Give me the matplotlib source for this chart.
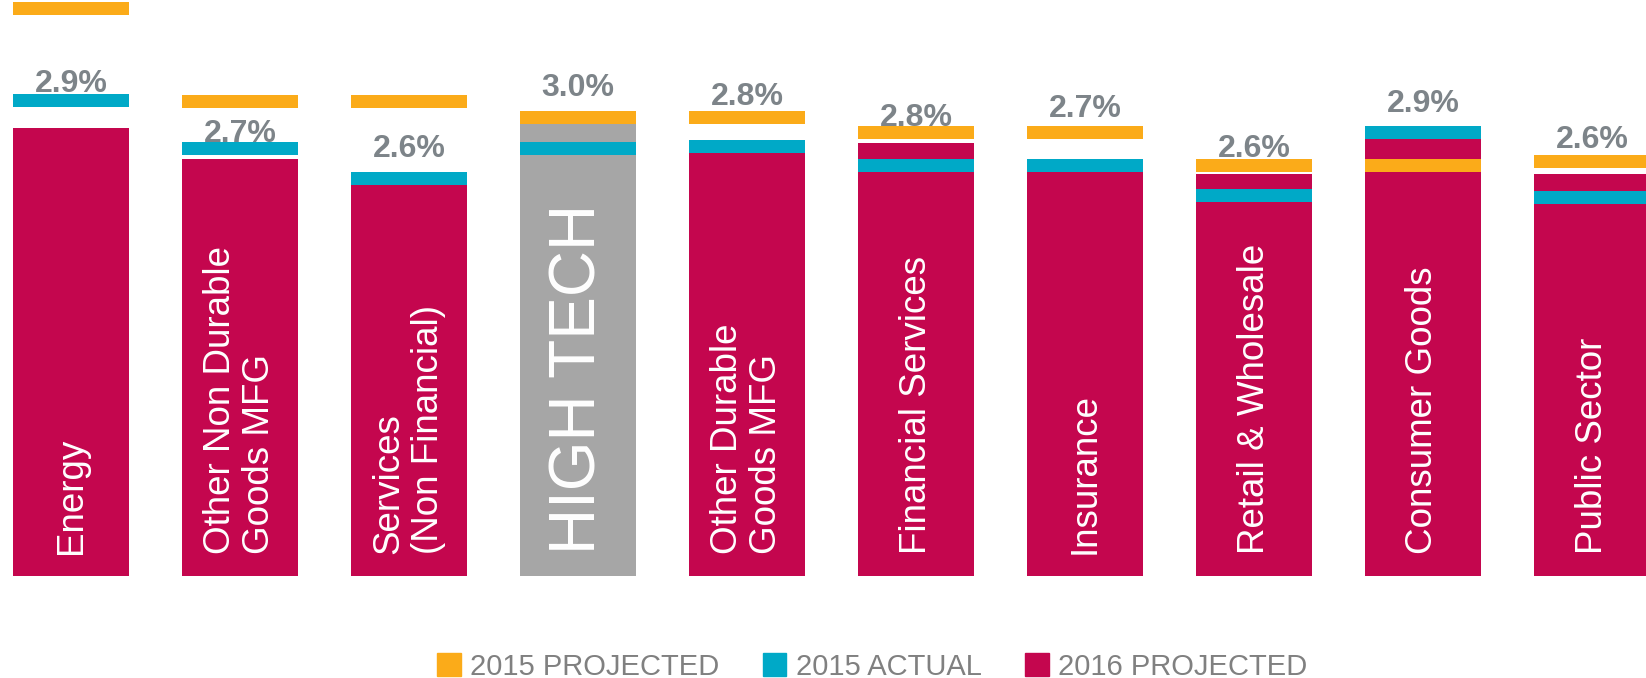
import matplotlib
matplotlib.use('Agg')
from matplotlib import pyplot as plt
from matplotlib.patches import Patch

plt.rcParams['font.family'] = ['Liberation Sans', 'DejaVu Sans']

categories = ['Energy', 'Other Non Durable\nGoods MFG', 'Services\n(Non Financial)',
              'HIGH TECH', 'Other Durable\nGoods MFG', 'Financial Services',
              'Insurance', 'Retail & Wholesale', 'Consumer Goods', 'Public Sector']
proj_2016 = [2.9, 2.7, 2.6, 3.0, 2.8, 2.8, 2.7, 2.6, 2.9, 2.6]
proj_2015 = [3.67, 3.07, 3.07, 2.97, 2.97, 2.87, 2.87, 2.66, 2.66, 2.68]
actual_2015 = [3.08, 2.77, 2.57, 2.77, 2.78, 2.66, 2.66, 2.46, 2.87, 2.45]

# where the % labels sit (baseline, in data units) - placed by hand in the original
label_y = [3.13, 2.81, 2.71, 3.11, 3.05, 2.91, 2.97, 2.71, 3.00, 2.77]

c_proj15 = '#FBAB19'
c_act15 = '#00A9C7'
c_proj16 = '#C4064E'
c_high = '#A6A6A6'
c_text = '#7D8489'

fig = plt.figure(figsize=(16.46, 6.78), dpi=100)
ax = fig.add_axes([0, 102 / 678, 1, 576 / 678])

x = list(range(len(categories)))
w = 0.69
mk = 0.084  # marker thickness

colors = [c_high if c == 'HIGH TECH' else c_proj16 for c in categories]
ax.bar(x, proj_2016, width=w, color=colors, zorder=1)
ax.bar(x, [mk] * len(x), bottom=[v - mk / 2 for v in proj_2015], width=w,
       color=c_proj15, zorder=2)
ax.bar(x, [mk] * len(x), bottom=[v - mk / 2 for v in actual_2015], width=w,
       color=c_act15, zorder=2)

for i, cat in enumerate(categories):
    big = cat == 'HIGH TECH'
    ax.text(i, 0.14, cat, rotation=90, ha='center', va='bottom',
            multialignment='left', color='white',
            fontsize=46 if big else 26.5, linespacing=1.17, zorder=3)
    ax.text(i, label_y[i], f'{proj_2016[i]:.1f}%', ha='center', va='baseline',
            color=c_text, fontsize=23, fontweight='bold', zorder=3)

ax.set_xlim(-71 / 169, 9 + 54 / 169)
ax.set_ylim(0, 576 / 154.5)
ax.axis('off')

handles = [Patch(color=c_proj15, label='2015 PROJECTED'),
           Patch(color=c_act15, label='2015 ACTUAL'),
           Patch(color=c_proj16, label='2016 PROJECTED')]
fig.legend(handles=handles, loc='lower center', bbox_to_anchor=(872 / 1646, -0.03),
           ncol=3, frameon=False, fontsize=21, labelcolor='#808080',
           handlelength=0.82, handleheight=0.82, handletextpad=0.31,
           columnspacing=1.5, borderpad=0.1)

plt.savefig('out.png', dpi=100)
